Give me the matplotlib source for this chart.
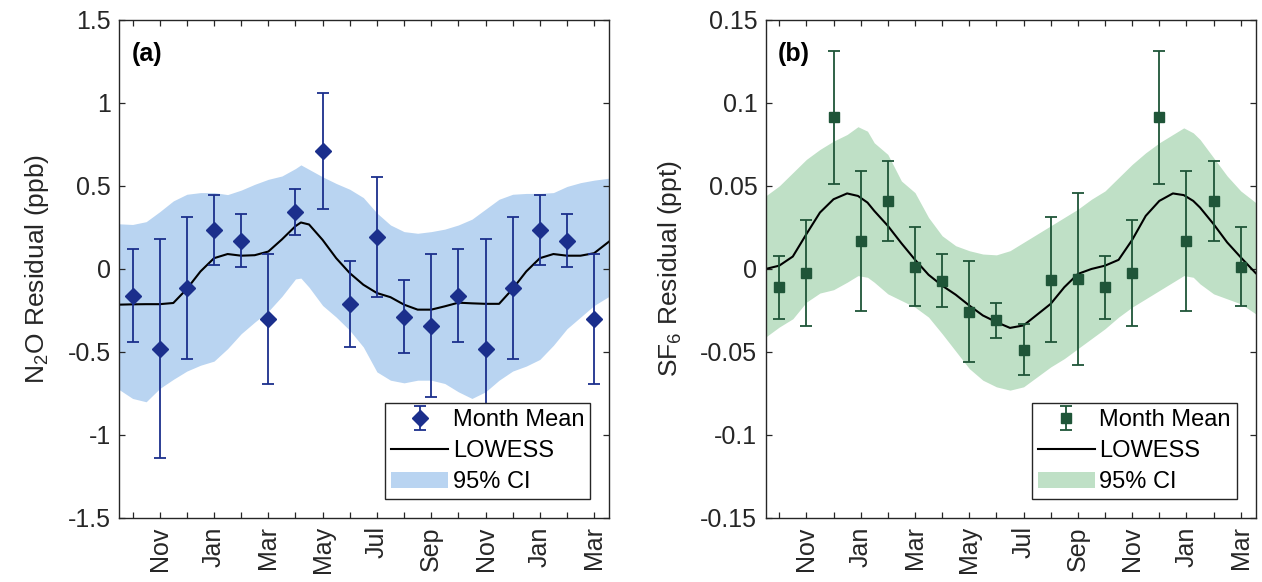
import matplotlib
matplotlib.use("Agg")
import matplotlib.pyplot as plt
import numpy as np

plt.rcParams["font.family"] = ["Liberation Sans", "DejaVu Sans"]
plt.rcParams["mathtext.default"] = "regular"

# months shown on the x axis (Oct .. Mar of the following year, wrapped climatology)
month_labels = ["Oct", "Nov", "Dec", "Jan", "Feb", "Mar", "Apr", "May", "Jun",
                "Jul", "Aug", "Sep", "Oct", "Nov", "Dec", "Jan", "Feb", "Mar"]
month_idx = np.arange(len(month_labels))

# N2O monthly means and error bars (ppb)
n2o_mean = [-0.16, -0.48, -0.115, 0.236, 0.17, -0.30, 0.343, 0.711, -0.21,
            0.192, -0.289, -0.341, -0.16, -0.48, -0.115, 0.236, 0.17, -0.30]
n2o_err = [0.28, 0.66, 0.43, 0.21, 0.16, 0.39, 0.14, 0.35, 0.26,
           0.36, 0.22, 0.43, 0.28, 0.66, 0.43, 0.21, 0.16, 0.39]

# N2O LOWESS fit and 95% CI, sampled along the month axis
n2o_fit_x = [-0.5, 0, 0.5, 1, 1.5, 2, 2.5, 3, 3.5, 4, 4.5, 5, 5.5, 6, 6.2, 6.5,
             7, 7.5, 8, 8.5, 9, 9.5, 10, 10.5, 11, 11.5, 12, 12.5, 13, 13.5,
             14, 14.5, 15, 15.5, 16, 16.5, 17, 17.55]
n2o_fit = [-0.215, -0.213, -0.212, -0.212, -0.205, -0.12, -0.015, 0.065, 0.09,
           0.08, 0.083, 0.105, 0.178, 0.258, 0.28, 0.268, 0.175, 0.065, -0.025,
           -0.095, -0.145, -0.17, -0.215, -0.245, -0.245, -0.225, -0.203,
           -0.207, -0.21, -0.21, -0.12, -0.015, 0.065, 0.09, 0.08, 0.08, 0.095,
           0.165]
n2o_ci_hi = [0.272, 0.268, 0.285, 0.345, 0.41, 0.45, 0.46, 0.46, 0.448, 0.475,
             0.51, 0.54, 0.56, 0.605, 0.627, 0.60, 0.555, 0.515, 0.48, 0.43,
             0.337, 0.265, 0.225, 0.215, 0.225, 0.24, 0.265, 0.30, 0.36, 0.42,
             0.45, 0.455, 0.455, 0.46, 0.497, 0.52, 0.535, 0.547]
n2o_ci_lo = [-0.726, -0.78, -0.80, -0.72, -0.665, -0.615, -0.58, -0.555, -0.48,
             -0.39, -0.32, -0.255, -0.165, -0.06, -0.055, -0.11, -0.22, -0.29,
             -0.37, -0.47, -0.62, -0.67, -0.686, -0.67, -0.67, -0.69, -0.74,
             -0.78, -0.74, -0.67, -0.615, -0.585, -0.545, -0.46, -0.36, -0.29,
             -0.22, -0.165]

# SF6 monthly means and error bars (ppt)
sf6_mean = [-0.011, -0.0026, 0.0914, 0.0169, 0.0411, 0.0014, -0.0072, -0.0257,
            -0.031, -0.0486, -0.0064, -0.0062, -0.011, -0.0026, 0.0914, 0.0169,
            0.0411, 0.0014]
sf6_err = [0.019, 0.032, 0.040, 0.042, 0.024, 0.024, 0.016, 0.0305, 0.0103,
           0.0153, 0.0378, 0.0517, 0.019, 0.032, 0.040, 0.042, 0.024, 0.024]

# SF6 LOWESS fit and 95% CI
sf6_fit_x = [-0.5, 0, 0.5, 1, 1.5, 2, 2.5, 2.9, 3.25, 3.5, 4, 4.5, 5, 5.5, 6,
             6.5, 7, 7.5, 8, 8.5, 9, 9.5, 10, 10.5, 11, 11.5, 12, 12.5, 13,
             13.5, 14, 14.5, 14.9, 15.25, 15.5, 16, 16.5, 17, 17.55]
sf6_fit = [0.0, 0.002, 0.0075, 0.021, 0.034, 0.042, 0.0455, 0.044, 0.040,
           0.035, 0.026, 0.0155, 0.0056, -0.0035, -0.010, -0.0155, -0.022,
           -0.028, -0.032, -0.0355, -0.034, -0.0275, -0.021, -0.011, -0.003,
           0.0, 0.002, 0.0055, 0.0175, 0.032, 0.041, 0.0455, 0.0445, 0.041,
           0.037, 0.027, 0.016, 0.007, -0.0025]
sf6_ci_hi = [0.044, 0.050, 0.058, 0.066, 0.072, 0.077, 0.081, 0.0857, 0.083,
             0.076, 0.069, 0.053, 0.046, 0.031, 0.020, 0.014, 0.011, 0.009,
             0.0085, 0.011, 0.016, 0.021, 0.026, 0.031, 0.036, 0.042, 0.047,
             0.055, 0.063, 0.070, 0.076, 0.081, 0.085, 0.082, 0.078, 0.067,
             0.056, 0.047, 0.040]
sf6_ci_lo = [-0.041, -0.035, -0.030, -0.020, -0.0145, -0.0125, -0.008, -0.004,
             -0.005, -0.008, -0.015, -0.019, -0.023, -0.029, -0.039, -0.0495,
             -0.060, -0.067, -0.071, -0.073, -0.071, -0.065, -0.059, -0.054,
             -0.048, -0.042, -0.036, -0.029, -0.023, -0.018, -0.013, -0.008,
             -0.004, -0.005, -0.009, -0.015, -0.018, -0.021, -0.027]

axis_color = "#262626"


def draw_panel(ax, mean, err, fit_x, fit, ci_lo, ci_hi, marker, msize,
               dark, light, ylim, yticks, yticklabels, ylabel, tag):
    ax.fill_between(fit_x, ci_lo, ci_hi, color=light, linewidth=0,
                    label="95% CI")
    ax.plot(fit_x, fit, color="black", linewidth=1.5, label="LOWESS")
    ax.errorbar(month_idx, mean, yerr=err, fmt=marker, color=dark,
                markersize=msize, elinewidth=1.3, capsize=4.5, capthick=1.3,
                label="Month Mean")

    ax.set_xlim(-0.5, 17.55)
    ax.set_ylim(*ylim)
    ax.set_yticks(yticks)
    ax.set_yticklabels(yticklabels)
    ax.set_xticks(month_idx)
    ax.set_xticklabels([m if i % 2 == 1 else "" for i, m in enumerate(month_labels)],
                       rotation=90)
    ax.tick_params(direction="in", length=4, width=0.9, top=True, right=True,
                   labelsize=18, colors=axis_color, pad=6)
    for s in ax.spines.values():
        s.set_color(axis_color)
        s.set_linewidth(1.0)
    ax.set_ylabel(ylabel, fontsize=19, color=axis_color, labelpad=12)
    ax.text(0.025, 0.955, tag, transform=ax.transAxes, fontsize=18,
            fontweight="bold", va="top", ha="left")

    handles, labels = ax.get_legend_handles_labels()
    order = [labels.index(l) for l in ["Month Mean", "LOWESS", "95% CI"]]
    leg = ax.legend([handles[i] for i in order], [labels[i] for i in order],
                    loc="lower right", fontsize=17, fancybox=False,
                    framealpha=1, edgecolor=axis_color, borderpad=0.25,
                    labelspacing=0.38, handlelength=2.4, handletextpad=0.2,
                    borderaxespad=0.8)
    leg.get_frame().set_linewidth(1.0)


fig = plt.figure(figsize=(12.62, 5.82), dpi=100)
ax1 = fig.add_axes([0.0943, 0.110, 0.3883, 0.8557])
ax2 = fig.add_axes([0.6067, 0.110, 0.3883, 0.8557])

draw_panel(ax1, n2o_mean, n2o_err, n2o_fit_x, n2o_fit, n2o_ci_lo, n2o_ci_hi,
           "D", 8, "#1b2f8c", "#b9d4f1", (-1.5, 1.5),
           [-1.5, -1, -0.5, 0, 0.5, 1, 1.5],
           ["-1.5", "-1", "-0.5", "0", "0.5", "1", "1.5"],
           "N$_2$O Residual (ppb)", "(a)")
draw_panel(ax2, sf6_mean, sf6_err, sf6_fit_x, sf6_fit, sf6_ci_lo, sf6_ci_hi,
           "s", 6.5, "#1f5538", "#bfe0c6", (-0.15, 0.15),
           [-0.15, -0.1, -0.05, 0, 0.05, 0.1, 0.15],
           ["-0.15", "-0.1", "-0.05", "0", "0.05", "0.1", "0.15"],
           "SF$_6$ Residual (ppt)", "(b)")

fig.savefig("out.png", dpi=100)
